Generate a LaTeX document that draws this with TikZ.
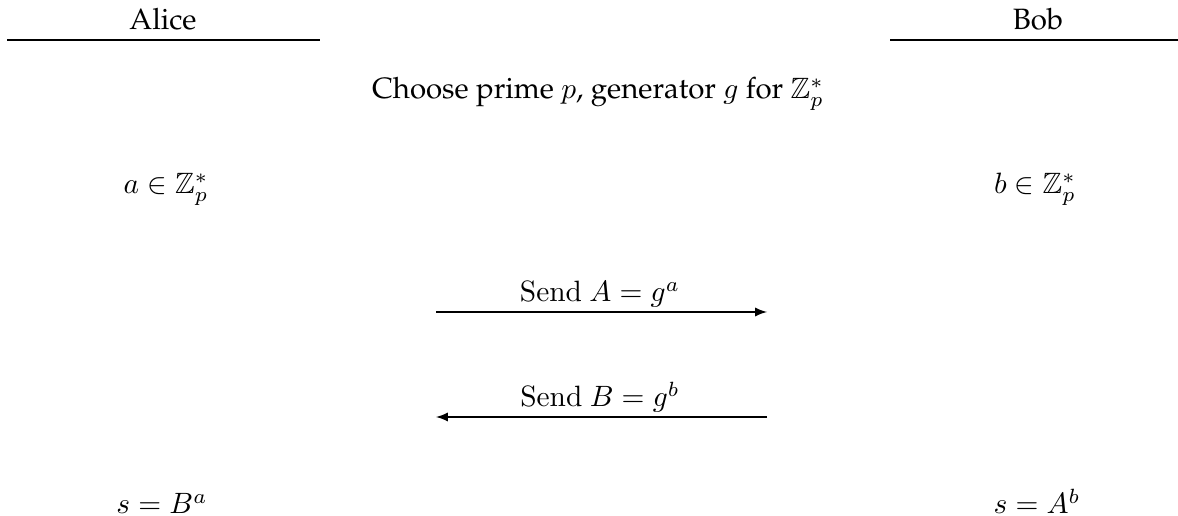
\documentclass[tikz,border=0pt]{standalone}
\usepackage[T1]{fontenc}
\usepackage{palatino}
\usepackage{amssymb}
\begin{document}
\begin{tikzpicture}[x=0.34pt,y=-0.34pt,
  lbl/.style={anchor=base,inner sep=0pt,font=\fontsize{10}{12}\selectfont},
  rule/.style={line width=0.4pt},
  msg/.style={-latex,line width=0.4pt}]
\useasboundingbox (0,0) rectangle (1178,516);
% headers
\node[lbl] (alice) at (163,30) {Alice};
\node[lbl] (bob) at (1038,30) {Bob};
\coordinate (aliceL) at (7,40);
\coordinate (aliceR) at (320,40);
\coordinate (bobL) at (890,40);
\coordinate (bobR) at (1184,40);
\draw[rule] (aliceL) -- (aliceR);
\draw[rule] (bobL) -- (bobR);
% setup
\node[lbl] (choose) at (598,99) {Choose prime $p$, generator $g$ for $\mathbb{Z}_p^*$};
\node[lbl] (asec) at (166,194) {$a \in \mathbb{Z}_p^*$};
\node[lbl] (bsec) at (1035,194) {$b \in \mathbb{Z}_p^*$};
% messages
\node[lbl] (sendA) at (600,302) {$\mathrm{Send}\ A = g^a$};
\coordinate (m1L) at (436,312);
\coordinate (m1R) at (767,312);
\draw[msg] (m1L) -- (m1R);
\node[lbl] (sendB) at (600,407) {$\mathrm{Send}\ B = g^b$};
\coordinate (m2L) at (436,417);
\coordinate (m2R) at (767,417);
\draw[msg] (m2R) -- (m2L);
% results
\node[lbl] (sA) at (162,514) {$s = B^a$};
\node[lbl] (sB) at (1037,514) {$s = A^b$};
\end{tikzpicture}
\end{document}
